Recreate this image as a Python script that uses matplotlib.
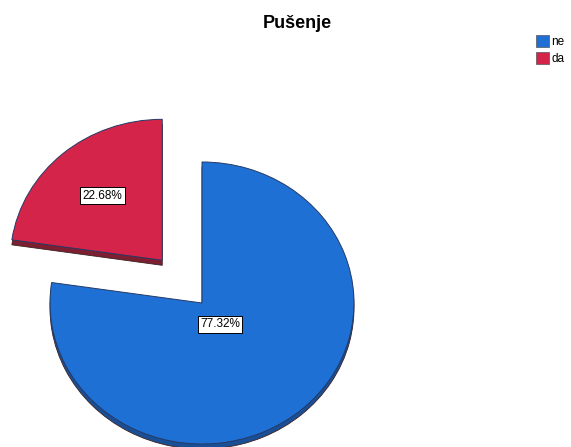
import matplotlib.pyplot as plt
from matplotlib.patches import Patch

plt.rcParams['font.family'] = ['Liberation Sans', 'DejaVu Sans']

title = "Pušenje"
labels = ["ne", "da"]
shares = [77.32, 22.68]  # percent of respondents
colors = ["#1f70d5", "#d4244a"]
rim_colors = ["#1a4f96", "#7d1f30"]
explode = [0, 0.4]

W, H = 571, 447
fig = plt.figure(figsize=(W / 100, H / 100), dpi=100)

# pie axes placed in pixels so the pie comes out slightly flattened (tilted look)
cx, cy, rx, ry = 202, 303, 152, 141
ax = fig.add_axes([(cx - rx) / W, (H - cy - ry) / H, 2 * rx / W, 2 * ry / H])

# darker copy a few pixels lower gives the depth rim
depth = 5 / ry
rim, _ = ax.pie(shares, explode=explode, colors=rim_colors, startangle=90,
                counterclock=False, center=(0, -depth), radius=1,
                wedgeprops=dict(edgecolor="#3a2020", linewidth=0.6), frame=False)

wedges, _, pcts = ax.pie(shares, explode=explode, colors=colors, startangle=90,
                         counterclock=False, radius=1, autopct="%.2f%%",
                         wedgeprops=dict(edgecolor="#233a66", linewidth=0.7),
                         textprops=dict(fontsize=8.5, color="black"), frame=False)
# pie() forces equal aspect; undo it so the axes box sets the ellipse
ax.set_aspect("auto")
ax.set_xlim(-1, 1)
ax.set_ylim(-1, 1)
ax.axis("off")
for w in list(rim) + list(wedges):
    w.set_clip_on(False)

# label spots inside each slice (axes units)
label_pos = [(0.118, -0.15), (-0.655, 0.76)]
for t, p in zip(pcts, label_pos):
    t.set_position(p)
    t.set_bbox(dict(facecolor="white", edgecolor="black", linewidth=0.7,
                    boxstyle="square,pad=0.2"))
    t.set_clip_on(False)

fig.text(297 / W, 1 - 23 / H, title, ha="center", va="center",
         fontsize=13, fontweight="bold")

handles = [Patch(facecolor=c, edgecolor="#555555", linewidth=0.5) for c in colors]
fig.legend(handles, labels, loc="upper left", bbox_to_anchor=(536 / W, 1 - 35 / H),
           frameon=False, fontsize=8.5, handlelength=1.1, handleheight=1.2,
           handletextpad=0.2, labelspacing=0.35, borderpad=0, borderaxespad=0)

fig.savefig("out.png", dpi=100)
